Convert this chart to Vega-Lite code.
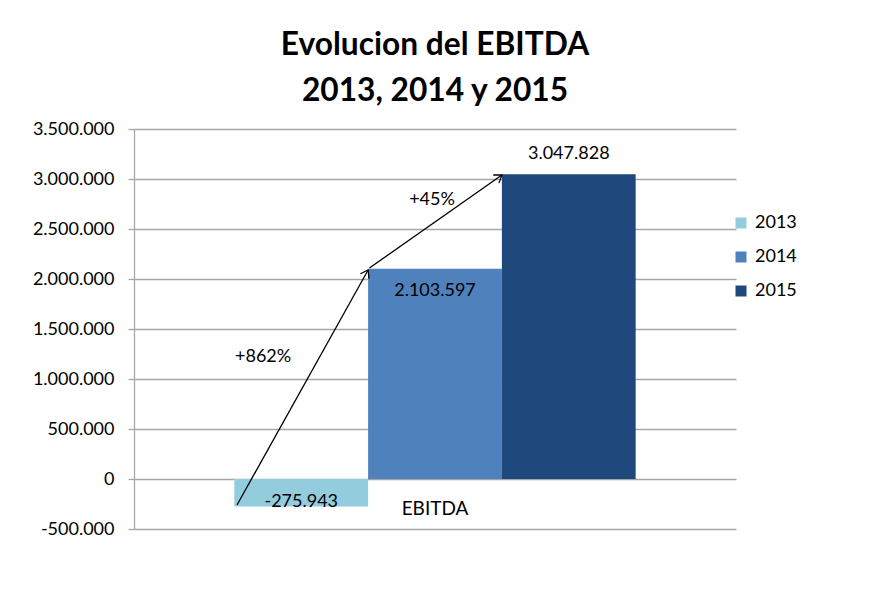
{
  "$schema": "https://vega.github.io/schema/vega-lite/v6.json",
  "autosize": {"type": "none"},
  "width": 602,
  "height": 400,
  "padding": {"left": 134, "top": 129, "right": 155, "bottom": 67},
  "background": "white",
  "config": {
    "locale": {"number": {"decimal": ",", "thousands": ".", "grouping": [3], "currency": ["", " €"], "minus": "-"}},
    "font": "Lato",
    "view": {"stroke": null}
  },
  "title": {
    "text": ["Evolucion del EBITDA", "2013, 2014 y 2015"],
    "font": "Lato",
    "fontSize": 31.7,
    "fontWeight": "bold",
    "lineHeight": 46,
    "anchor": "middle",
    "baseline": "alphabetic",
    "offset": -13,
    "color": "black"
  },
  "datasets": {
    "ebitda": [
      {"category": "EBITDA", "year": "2013", "value": -275943},
      {"category": "EBITDA", "year": "2014", "value": 2103597},
      {"category": "EBITDA", "year": "2015", "value": 3047828}
    ],
    "arrows": [
      {"segment": "2013-2014", "point": "start", "pos": 0.02, "value": -260000},
      {"segment": "2013-2014", "point": "end", "pos": 1.0, "value": 2090000},
      {"segment": "2014-2015", "point": "start", "pos": 1.01, "value": 2110000},
      {"segment": "2014-2015", "point": "end", "pos": 2.0, "value": 3040000}
    ],
    "growth": [
      {"label": "+862%", "pos": 0.215, "value": 1220000},
      {"label": "+45%", "pos": 1.478, "value": 2790000}
    ]
  },
  "layer": [
    {
      "data": {"name": "ebitda"},
      "encoding": {
        "x": {
          "field": "category", "type": "nominal",
          "scale": {"paddingInner": 0, "paddingOuter": 0.25},
          "axis": {"title": null, "labelAngle": 0, "domain": false, "ticks": false, "offset": -50, "labelPadding": 20, "labelFontSize": 19, "labelFont": "Lato", "labelColor": "black"}
        },
        "xOffset": {"field": "year", "type": "nominal", "scale": {"paddingInner": 0, "paddingOuter": 0}},
        "y": {
          "field": "value", "type": "quantitative",
          "scale": {"domain": [-500000, 3500000], "nice": false, "zero": false},
          "axis": {
            "title": null,
            "values": [-500000, 0, 500000, 1000000, 1500000, 2000000, 2500000, 3000000, 3500000],
            "format": ",d",
            "grid": true, "gridColor": "#a6a6a6", "gridWidth": 1.3,
            "domainColor": "#a6a6a6", "domainWidth": 1.3,
            "tickColor": "#a6a6a6", "tickWidth": 1.3, "tickSize": 6,
            "labelPadding": 14, "labelFontSize": 18, "labelFont": "Lato", "labelColor": "black"
          }
        }
      },
      "layer": [
        {
          "mark": {"type": "bar"},
          "encoding": {
            "color": {
              "field": "year", "type": "nominal",
              "scale": {"domain": ["2013", "2014", "2015"], "range": ["#93CDDD", "#4F81BD", "#1F497D"]},
              "legend": {"title": null, "orient": "none", "legendX": 598, "legendY": 85, "symbolType": "square", "symbolSize": 121, "symbolStrokeWidth": 0, "symbolOpacity": 1, "labelFontSize": 18, "labelFont": "Lato", "labelColor": "black", "rowPadding": 16, "labelOffset": 5}
            }
          }
        },
        {
          "transform": [{"filter": "datum.year === '2013'"}],
          "mark": {"type": "text", "fontSize": 18, "font": "Lato", "color": "black", "dy": -5},
          "encoding": {"text": {"field": "value", "type": "quantitative", "format": ",d"}}
        },
        {
          "transform": [{"filter": "datum.year === '2014'"}],
          "mark": {"type": "text", "fontSize": 18, "font": "Lato", "color": "black", "dy": 22},
          "encoding": {"text": {"field": "value", "type": "quantitative", "format": ",d"}}
        },
        {
          "transform": [{"filter": "datum.year === '2015'"}],
          "mark": {"type": "text", "fontSize": 18, "font": "Lato", "color": "black", "dy": -20},
          "encoding": {"text": {"field": "value", "type": "quantitative", "format": ",d"}}
        }
      ]
    },
    {
      "encoding": {
        "x": {"field": "pos", "type": "quantitative", "scale": {"domain": [-0.75, 3.75], "nice": false, "zero": false}, "axis": null},
        "y": {"field": "value", "type": "quantitative"}
      },
      "layer": [
        {
          "data": {"name": "arrows"},
          "mark": {"type": "line", "color": "black", "strokeWidth": 1.3},
          "encoding": {"detail": {"field": "segment", "type": "nominal"}}
        },
        {
          "data": {"name": "arrows"},
          "transform": [{"filter": "datum.segment === '2013-2014' && datum.point === 'end'"}],
          "mark": {"type": "point", "shape": "M-1,-0.7L0,0L-1,0.7", "filled": false, "stroke": "black", "strokeWidth": 1.3, "size": 200, "opacity": 1, "angle": 299}
        },
        {
          "data": {"name": "arrows"},
          "transform": [{"filter": "datum.segment === '2014-2015' && datum.point === 'end'"}],
          "mark": {"type": "point", "shape": "M-1,-0.7L0,0L-1,0.7", "filled": false, "stroke": "black", "strokeWidth": 1.3, "size": 200, "opacity": 1, "angle": 325}
        },
        {
          "data": {"name": "growth"},
          "mark": {"type": "text", "fontSize": 18, "font": "Lato", "color": "black"},
          "encoding": {"text": {"field": "label", "type": "nominal"}}
        }
      ]
    }
  ],
  "resolve": {"scale": {"x": "independent"}}
}
